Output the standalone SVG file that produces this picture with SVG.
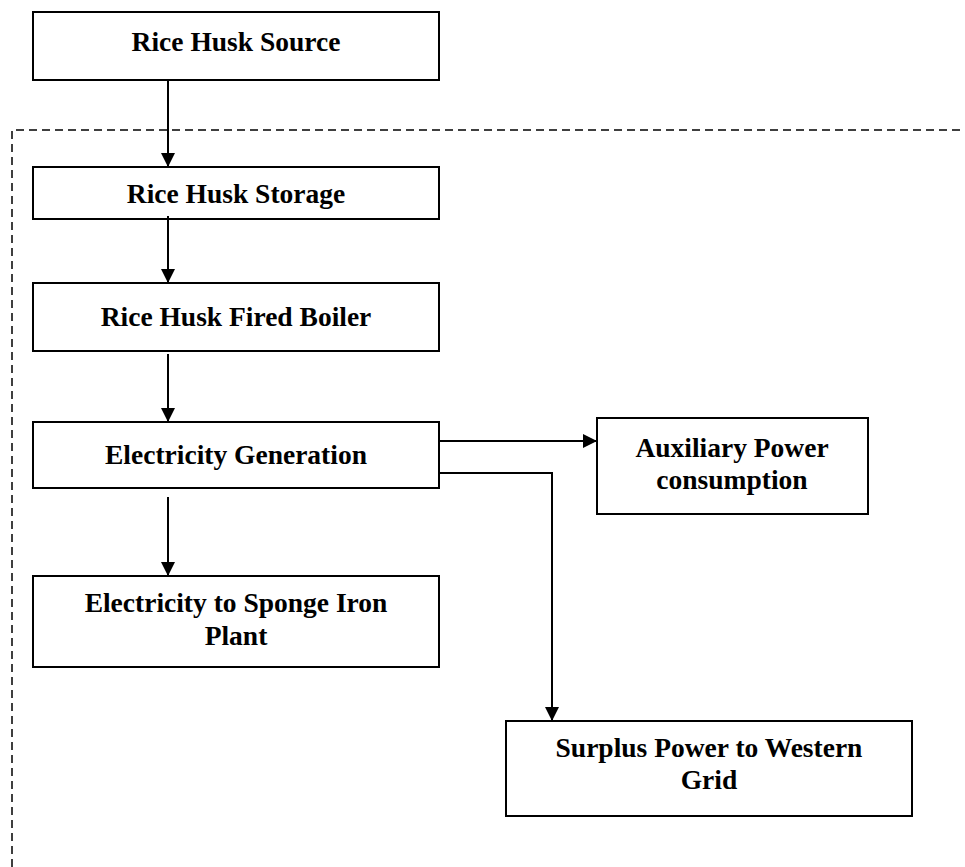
<svg xmlns="http://www.w3.org/2000/svg" width="965" height="867" viewBox="0 0 965 867">
<defs>
<style>
.box{fill:#fff;stroke:#000;stroke-width:2}
.t{font-family:"Liberation Serif","Times New Roman",serif;font-weight:bold;font-size:27.5px;text-anchor:middle;fill:#000}
.c{fill:none;stroke:#000;stroke-width:2}
.dash{fill:none;stroke:#000;stroke-width:1.5;stroke-dasharray:8 5}
</style>
<marker id="ah" markerWidth="14" markerHeight="14" refX="14" refY="7" orient="auto" markerUnits="userSpaceOnUse">
<path d="M0,0 L14,7 L0,14 Z" fill="#000"/>
</marker>
</defs>
<rect width="965" height="867" fill="#fff"/>
<path class="dash" d="M12,867 L12,130 L965,130"/>
<g id="n1"><rect class="box" x="33" y="12" width="406" height="68"/><text class="t" x="236" y="51">Rice Husk Source</text></g>
<g id="n2"><rect class="box" x="33" y="167" width="406" height="52"/><text class="t" x="236" y="203">Rice Husk Storage</text></g>
<g id="n3"><rect class="box" x="33" y="283" width="406" height="68"/><text class="t" x="236" y="326">Rice Husk Fired Boiler</text></g>
<g id="n4"><rect class="box" x="33" y="422" width="406" height="66"/><text class="t" x="236" y="464">Electricity Generation</text></g>
<g id="n5"><rect class="box" x="597" y="418" width="271" height="96"/><text class="t" x="732" y="457">Auxiliary Power</text><text class="t" x="732" y="489">consumption</text></g>
<g id="n6"><rect class="box" x="33" y="576" width="406" height="91"/><text class="t" x="236" y="612">Electricity to Sponge Iron</text><text class="t" x="236" y="645">Plant</text></g>
<g id="n7"><rect class="box" x="506" y="721" width="406" height="95"/><text class="t" x="709" y="757">Surplus Power to Western</text><text class="t" x="709" y="789">Grid</text></g>
<g id="connectors">
<line class="c" x1="168" y1="79" x2="168" y2="167" marker-end="url(#ah)"/>
<line class="c" x1="168" y1="216" x2="168" y2="283" marker-end="url(#ah)"/>
<line class="c" x1="168" y1="354" x2="168" y2="422" marker-end="url(#ah)"/>
<line class="c" x1="168" y1="497" x2="168" y2="576" marker-end="url(#ah)"/>
<line class="c" x1="439" y1="441" x2="597" y2="441" marker-end="url(#ah)"/>
<polyline class="c" points="439,473 552,473 552,721" marker-end="url(#ah)"/>
</g>
</svg>
